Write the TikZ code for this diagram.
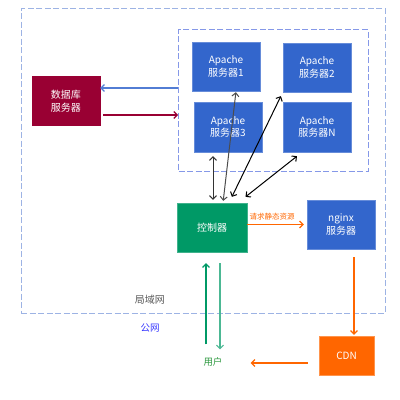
\documentclass[tikz,border=0pt]{standalone}
\usepackage{fontspec}
\setmainfont{Noto Sans CJK SC}
\usetikzlibrary{positioning,arrows.meta}
\definecolor{srvblue}{HTML}{3366CC}
\definecolor{dbred}{HTML}{990033}
\definecolor{ctrlgreen}{HTML}{009966}
\definecolor{cdnorange}{HTML}{FF6600}
\definecolor{lanblue}{HTML}{9DB3E4}
\definecolor{usergreen}{HTML}{2E9940}
\begin{document}
\begin{tikzpicture}[x=1pt,y=-1pt,
    >={Straight Barb[length=3.5pt,width=7pt]},
    box/.style={fill=srvblue,draw=srvblue!75!white,text=white,
      minimum width=68pt,minimum height=49pt,inner sep=0pt,
      align=center,font=\fontsize{10}{12.5}\selectfont},
    frame/.style={draw=lanblue,line width=0.9pt,dash pattern=on 6pt off 2.5pt,
      inner sep=0pt},
    link/.style={->,line width=1.1pt},
    dlink/.style={<->,line width=1pt}]
  \useasboundingbox (0,0) rectangle (400,400);
  % network frames
  \node[frame,minimum width=364pt,minimum height=304.5pt] (lan) at (203,160.75) {};
  \node[frame,draw=lanblue!85!blue,minimum width=189.5pt,minimum height=141.5pt] (cluster) at (273.25,100.25) {};
  \node[text=black!65,font=\fontsize{10}{12}\selectfont] (lanlabel) at (150,300) {局域网};
  \node[text=blue!80!white,font=\fontsize{9.5}{12}\selectfont] (wanlabel) at (150,328) {公网};
  % servers
  \node[box] (ap1) at (226,66.5) {Apache\\服务器1};
  \node[box] (ap2) at (317,67.5) {Apache\\服务器2};
  \node[box,minimum height=50pt] (ap3) at (228,127) {Apache\\服务器3};
  \node[box,minimum height=50pt] (apn) at (317,127) {Apache\\服务器N};
  \node[box,fill=dbred,draw=dbred] (db) at (66,101) {数据库\\服务器};
  \node[box,fill=ctrlgreen,draw=ctrlgreen!75!white,minimum width=70pt] (ctrl) at (212,227.5) {控制器};
  \node[box] (ng) at (341,224.5) {nginx\\服务器};
  \node[box,fill=cdnorange,draw=cdnorange!70!white,minimum width=55pt,minimum height=39pt] (cdn) at (346.5,355.5) {CDN};
  \node[text=usergreen,inner sep=0pt,font=\fontsize{9.5}{12}\selectfont] (user) at (213,362) {用户};
  % database links
  \coordinate (dbin) at ([yshift=13pt]db.east);
  \coordinate (dbout) at ([yshift=-14pt]db.east);
  \draw[link,draw=srvblue!85!white] (dbin -| cluster.west) -- (dbin);
  \draw[link,draw=dbred,shorten <=3pt] (dbout) -- (dbout -| cluster.west);
  % controller to apache
  \begin{scope}[dlink]
    \draw[black!80,shorten <=3pt,shorten >=4pt] ([xshift=1pt]ctrl.north) -- ([xshift=-15pt]ap3.south);
    \draw[black!70,shorten <=2pt,shorten >=1pt] ([xshift=11pt]ctrl.north) -- ([xshift=10pt]ap1.south);
    \draw[shorten <=6.6pt,shorten >=4.4pt] ([xshift=17pt]ctrl.north) -- (ap2.south west);
    \draw[shorten <=9.6pt,shorten >=6.4pt] ([xshift=26pt]ctrl.north) -- ([xshift=-15pt]apn.south);
  \end{scope}
  % user links
  \draw[link,draw=ctrlgreen,shorten <=13pt,shorten >=11pt] ([xshift=-7pt]user.north) -- ([xshift=-6pt]ctrl.south);
  \draw[link,draw=ctrlgreen!70!white,shorten <=11pt,shorten >=8pt] ([xshift=8pt]ctrl.south) -- ([xshift=7pt]user.north);
  % static content
  \draw[link,draw=cdnorange,shorten >=3pt] (ctrl.east |- ng.west) -- (ng.west)
    node[pos=0.42,above=1pt,text=cdnorange,font=\fontsize{7.5}{9}\selectfont] (reqlabel) {请求静态资源};
  \coordinate (ngout) at ([xshift=13pt]ng.south);
  \draw[link,draw=cdnorange,shorten <=8pt,shorten >=1pt] (ngout) -- (ngout |- cdn.north);
  \coordinate (cdnout) at ([yshift=-7.5pt]cdn.west);
  \draw[link,draw=cdnorange,shorten <=11pt,shorten >=28pt] (cdnout) -- (cdnout -| user.east);
\end{tikzpicture}
\end{document}
